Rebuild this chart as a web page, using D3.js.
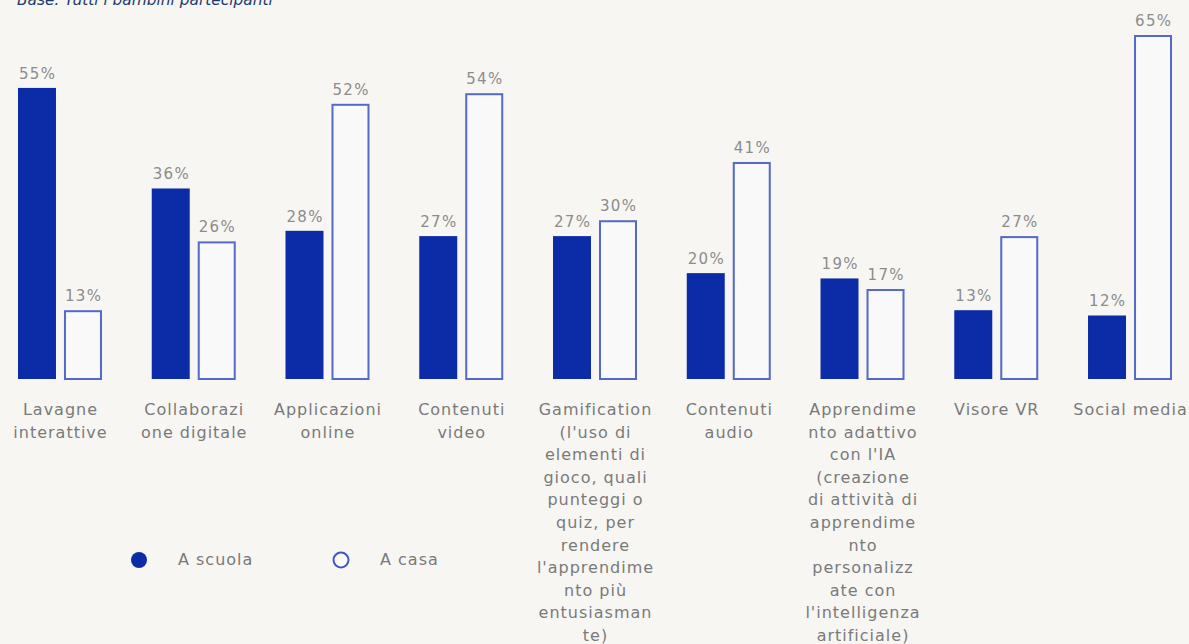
<!DOCTYPE html>
<html>
<head>
<meta charset="utf-8">
<script src="https://cdn.jsdelivr.net/npm/d3@7"></script>
<style>
  html, body { margin: 0; padding: 0; background: #f7f6f3; }
  svg { display: block; font-family: 'DejaVu Sans', sans-serif; }
</style>
</head>
<body>
<div class="canvas"></div>
<script>
// categories, each label split in lines as in the source
const categories = [
  ['Lavagne', 'interattive'],
  ['Collaborazi', 'one digitale'],
  ['Applicazioni', 'online'],
  ['Contenuti', 'video'],
  ['Gamification', "(l'uso di", 'elementi di', 'gioco, quali', 'punteggi o', 'quiz, per', 'rendere', "l'apprendime", 'nto più', 'entusiasman', 'te)'],
  ['Contenuti', 'audio'],
  ['Apprendime', 'nto adattivo', "con l'IA", '(creazione', 'di attività di', 'apprendime', 'nto', 'personalizz', 'ate con', "l'intelligenza", 'artificiale)'],
  ['Visore VR'],
  ['Social media']
];
const series = ['A scuola', 'A casa'];
const scuola = [55, 36, 28, 27, 27, 20, 19, 13, 12];
const casa = [13, 26, 52, 54, 30, 41, 17, 27, 65];

const width = 1189;
const height = 644;
const baseY = 379;
const blue = '#0b2ca6';
const outline = '#5469c8';

const svg = d3
  .select('.canvas')
  .append('svg')
  .attr('width', width)
  .attr('height', height);

svg
  .append('text')
  .attr('x', 17)
  .attr('y', 5)
  .attr('fill', '#1d3b6f')
  .attr('font-size', 15.4)
  .attr('font-style', 'italic')
  .text('Base: Tutti i bambini partecipanti');

const idx = categories.map((c, i) => i);

//scales
const x = d3
  .scaleBand()
  .domain(idx)
  .range([-6.9, 1196.9])
  .paddingInner(0.372)
  .paddingOuter(0.186);

const xSub = d3
  .scaleBand()
  .domain(series)
  .range([0, x.bandwidth()])
  .paddingInner(0.174);

const y = d3.scaleLinear().domain([0, 65]).range([baseY, 35]);

const rows = idx.map((i) => [
  { key: series[0], value: scuola[i] },
  { key: series[1], value: casa[i] },
]);

const groups = svg
  .selectAll('g.group')
  .data(rows)
  .enter()
  .append('g')
  .attr('class', 'group')
  .attr('transform', (d, i) => `translate(${x(i)}, 0)`);

groups
  .selectAll('rect')
  .data((d) => d)
  .enter()
  .append('rect')
  .attr('x', (d) => xSub(d.key) + (d.key === series[1] ? 1 : 0))
  .attr('y', (d) => y(d.value) + (d.key === series[1] ? 1 : 0))
  .attr('width', (d) => xSub.bandwidth() - (d.key === series[1] ? 2 : 0))
  .attr('height', (d) => baseY - y(d.value) - (d.key === series[1] ? 1 : 0))
  .attr('fill', (d) => (d.key === series[0] ? blue : '#f9f9f9'))
  .attr('stroke', (d) => (d.key === series[0] ? 'none' : outline))
  .attr('stroke-width', 2);

groups
  .selectAll('text.val')
  .data((d) => d)
  .enter()
  .append('text')
  .attr('class', 'val')
  .attr('x', (d) => xSub(d.key) + xSub.bandwidth() / 2 + 0.7)
  .attr('y', (d) => y(d.value) - 9)
  .attr('text-anchor', 'middle')
  .attr('font-size', 15)
  .attr('letter-spacing', 1.4)
  .attr('fill', '#8c8c8c')
  .text((d) => d.value + '%');

//category labels
const labels = svg
  .selectAll('text.cat')
  .data(categories)
  .enter()
  .append('text')
  .attr('class', 'cat')
  .attr('text-anchor', 'middle')
  .attr('font-size', 16)
  .attr('letter-spacing', 1)
  .attr('fill', '#7a7a7a')
  .attr('transform', (d, i) => `translate(${x(i) + x.bandwidth() / 2 + 0.5}, 415)`);

labels
  .selectAll('tspan')
  .data((d) => d)
  .enter()
  .append('tspan')
  .attr('x', 0)
  .attr('y', (d, i) => i * 22.6)
  .text((d) => d);

//legend
const legend = svg
  .selectAll('g.legend')
  .data(series)
  .enter()
  .append('g')
  .attr('class', 'legend')
  .attr('transform', (d, i) => `translate(${139 + i * 202}, 560)`);

legend
  .append('circle')
  .attr('r', (d, i) => (i === 0 ? 8 : 7.5))
  .attr('fill', (d, i) => (i === 0 ? blue : '#f9f9f9'))
  .attr('stroke', (d, i) => (i === 0 ? 'none' : '#3f58c4'))
  .attr('stroke-width', 2);

legend
  .append('text')
  .attr('x', 39)
  .attr('y', 5)
  .attr('font-size', 16)
  .attr('letter-spacing', 1)
  .attr('fill', '#7a7a7a')
  .text((d) => d);
</script>
</body>
</html>
